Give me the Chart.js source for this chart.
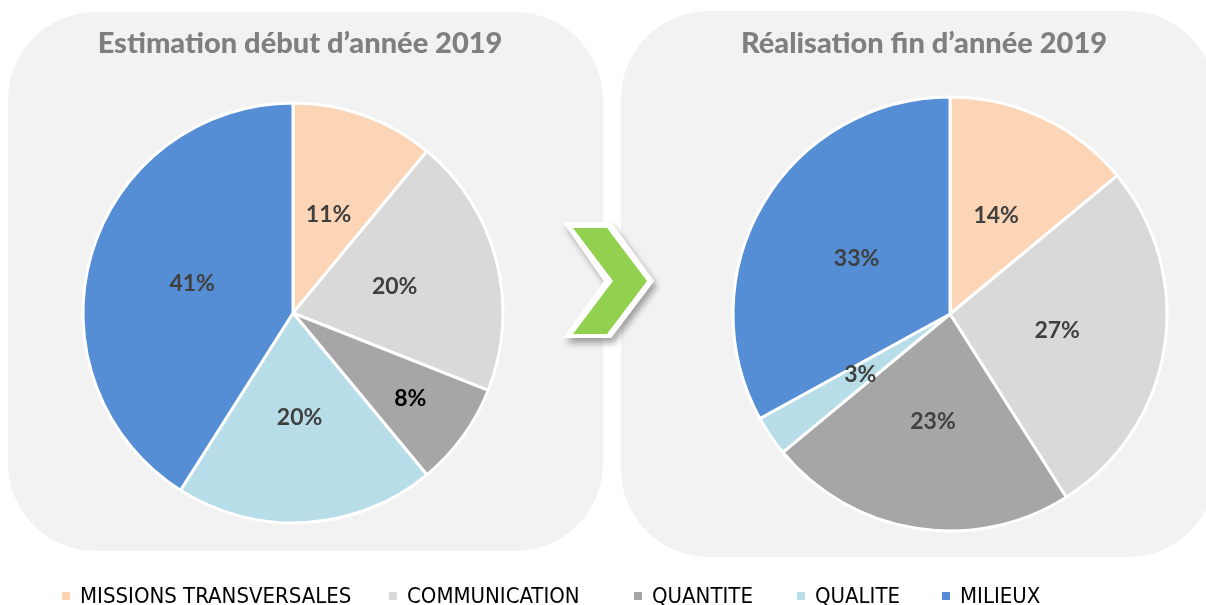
<!DOCTYPE html>
<html>
<head>
<meta charset="utf-8">
<script src="https://cdn.jsdelivr.net/npm/chart.js@4/dist/chart.umd.min.js"></script>
<style>
  html, body { margin: 0; padding: 0; background: #fff; }
  body { width: 1206px; height: 605px; position: relative; overflow: hidden; }
  .panel { position: absolute; background: #f2f2f2; border-radius: 88px; }
  .box { position: absolute; }
  .titre {
    position: absolute; top: 27px; width: 600px; margin-left: -300px; text-align: center;
    font-family: Lato, "Open Sans", sans-serif; font-weight: 900; font-size: 29px; line-height: 29px;
    color: #7f7f7f; white-space: nowrap;
  }
  #legend {
    position: absolute; left: 0; top: 583px; width: 1206px; height: 24px;
    font-family: "Liberation Sans Narrow", "DejaVu Sans Condensed", sans-serif; font-size: 22px; color: #000;
  }
  #legend .item { position: absolute; top: 0; display: flex; align-items: center; white-space: nowrap; }
  #legend .sw { width: 8px; height: 8px; margin-right: 10px; }
</style>
</head>
<body>
<div class="panel" style="left:8px; top:12px; width:595px; height:539px;"></div>
<div class="panel" style="left:621px; top:11px; width:595px; height:546px;"></div>

<div class="box" style="left:0px; top:0px; width:600px; height:580px;"><canvas id="pieDebut"></canvas></div>
<div class="box" style="left:630px; top:0px; width:589px; height:580px;"><canvas id="pieFin"></canvas></div>

<div class="titre" id="titreDebut" style="left:300px;"></div>
<div class="titre" id="titreFin" style="left:924px;"></div>

<svg width="1206" height="605" style="position:absolute; left:0; top:0; pointer-events:none;">
  <defs>
    <filter id="ombre" x="-30%" y="-30%" width="160%" height="160%">
      <feDropShadow dx="3" dy="5" stdDeviation="3" flood-color="#000" flood-opacity="0.35"/>
    </filter>
  </defs>
  <polygon points="563,222 611,222 654,281 611,338 563,338 604,281" fill="#fff" filter="url(#ombre)"/>
  <polygon points="573,228 607,228 647,281 607,334 573,334 613,281" fill="#92d050"/>
</svg>

<div id="legend"></div>

<script>
const categories = ["MISSIONS TRANSVERSALES", "COMMUNICATION", "QUANTITE", "QUALITE", "MILIEUX"];
const estimation2019 = [11, 20, 8, 20, 41];
const realisation2019 = [14, 27, 23, 3, 33];
const titles = ["Estimation début d’année 2019", "Réalisation fin d’année 2019"];
const colors = ["#fbd5b5", "#d9d9d9", "#a6a6a6", "#b7dee8", "#558ed5"];

// etiquettes % dessinees au milieu de chaque part
const pctLabels = {
    id: "pctLabels",
    afterDatasetsDraw(chart) {
        const ds = chart.data.datasets[0];
        const meta = chart.getDatasetMeta(0);
        const ctx = chart.ctx;
        ctx.save();
        ctx.font = "bold 23px Lato, 'Open Sans', sans-serif";
        ctx.textAlign = "center";
        ctx.textBaseline = "middle";
        meta.data.forEach((arc, i) => {
            const mid = (arc.startAngle + arc.endAngle) / 2;
            const f = (ds.labelDist && ds.labelDist[i]) || 0.5;
            const x = arc.x + Math.cos(mid) * arc.outerRadius * f;
            const y = arc.y + Math.sin(mid) * arc.outerRadius * f;
            ctx.fillStyle = (ds.labelColors && ds.labelColors[i]) || "#404040";
            ctx.fillText(ds.data[i] + "%", x, y);
        });
        ctx.restore();
    }
};

function makePie(id, values, radius, padding, extra) {
    const ctx = document.getElementById(id).getContext("2d");
    return new Chart(ctx, {
        type: "pie",
        data: {
            labels: categories,
            datasets: [Object.assign({
                data: values,
                backgroundColor: colors,
                borderColor: "#ffffff",
                borderWidth: 3,
                hoverOffset: 0
            }, extra)]
        },
        options: {
            responsive: true,
            maintainAspectRatio: false,
            animation: false,
            radius: radius,
            layout: { padding: padding },
            plugins: {
                legend: { display: false },
                tooltip: { enabled: false }
            }
        },
        plugins: [pctLabels]
    });
}

document.getElementById("titreDebut").textContent = titles[0];
document.getElementById("titreFin").textContent = titles[1];

makePie("pieDebut", estimation2019, 210,
    { left: 0, right: 14, top: 46, bottom: 0 },
    { labelDist: [0.5, 0.5, 0.69, 0.5, 0.5], labelColors: [null, null, "#000000", null, null] });

makePie("pieFin", realisation2019, 217,
    { left: 51, right: 0, top: 48, bottom: 0 },
    { labelDist: [0.5, 0.5, 0.5, 0.5, 0.5] });

// legende commune en bas
const legendX = [62, 389, 634, 797, 942];
const legend = document.getElementById("legend");
categories.forEach((c, i) => {
    const item = document.createElement("div");
    item.className = "item";
    item.style.left = legendX[i] + "px";
    const sw = document.createElement("span");
    sw.className = "sw";
    sw.style.background = colors[i];
    const txt = document.createElement("span");
    txt.textContent = c;
    item.appendChild(sw);
    item.appendChild(txt);
    legend.appendChild(item);
});
</script>
</body>
</html>
